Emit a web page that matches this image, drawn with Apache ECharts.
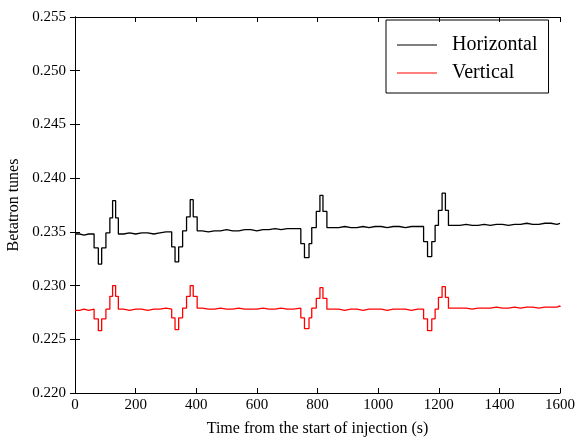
<!DOCTYPE html>
<html>
<head>
<meta charset="utf-8">
<script src="https://cdn.jsdelivr.net/npm/echarts@6/dist/echarts.min.js"></script>
<style>html,body{margin:0;padding:0;background:#fff}#c{width:578px;height:439px}</style>
</head>
<body>
<div id="c"></div>
<script>
// Time (s)
const times = [0,15,30,45,
  63,77,88,102,115,124,134,143,
  160,180,200,220,240,260,280,300,
  319,330,342,355,368,380,390,403,
  420,440,460,480,500,520,540,560,580,600,620,640,660,680,700,720,
  745,757,772,781,796,808,818,831,
  850,870,890,910,930,950,970,990,1010,1030,1050,1070,1090,1110,1130,
  1150,1163,1177,1188,1199,1211,1222,1232,
  1250,1270,1290,1310,1330,1350,1370,1390,1410,1430,1450,1470,1490,1510,1530,1550,1570,1590,1600];

const horizontal = [0.2348,0.2347,0.2348,0.2348,
  0.2335,0.2320,0.2335,0.2349,0.2363,0.2379,0.2363,0.2348,
  0.2349,0.2348,0.2349,0.2349,0.2348,0.2349,0.2350,0.2350,
  0.2336,0.2322,0.2336,0.2351,0.2364,0.2380,0.2364,0.2351,
  0.2350,0.2351,0.2351,0.2352,0.2351,0.2351,0.2352,0.2352,0.2351,0.2352,0.2352,0.2353,0.2352,0.2353,0.2353,0.2353,
  0.2339,0.2326,0.2339,0.2354,0.2369,0.2384,0.2369,0.2354,
  0.2354,0.2355,0.2354,0.2354,0.2355,0.2354,0.2355,0.2355,0.2354,0.2355,0.2355,0.2354,0.2355,0.2355,0.2355,
  0.2341,0.2327,0.2341,0.2356,0.2370,0.2386,0.2370,0.2356,
  0.2356,0.2357,0.2356,0.2356,0.2357,0.2356,0.2357,0.2357,0.2356,0.2357,0.2357,0.2358,0.2357,0.2357,0.2358,0.2358,0.2357,0.2358,0.2358];

const vertical = [0.2277,0.2278,0.2277,0.2278,
  0.2269,0.2258,0.2269,0.2278,0.2290,0.2300,0.2290,0.2278,
  0.2277,0.2278,0.2278,0.2277,0.2278,0.2278,0.2279,0.2278,
  0.2270,0.2259,0.2270,0.2279,0.2290,0.2300,0.2290,0.2279,
  0.2278,0.2278,0.2279,0.2278,0.2278,0.2279,0.2278,0.2278,0.2278,0.2279,0.2278,0.2278,0.2279,0.2278,0.2278,0.2279,
  0.2270,0.2260,0.2270,0.2279,0.2288,0.2298,0.2288,0.2278,
  0.2278,0.2277,0.2278,0.2278,0.2277,0.2278,0.2278,0.2278,0.2277,0.2278,0.2278,0.2278,0.2277,0.2278,0.2278,
  0.2269,0.2258,0.2269,0.2278,0.2289,0.2299,0.2289,0.2279,
  0.2279,0.2279,0.2278,0.2279,0.2279,0.2279,0.2280,0.2279,0.2279,0.2280,0.2279,0.2280,0.2280,0.2279,0.2280,0.2280,0.2280,0.2281,0.2280];

const seriesNames = ['Horizontal', 'Vertical'];
const xMin = 0, xMax = 1600, xStep = 200;
const yMin = 0.220, yMax = 0.255, yStep = 0.005;

const font = 'Liberation Serif';
const pairs = (vals) => times.map((t, i) => [t, vals[i]]);

const axisCommon = {
  axisLine: {show: true, lineStyle: {color: '#000', width: 1}},
  axisTick: {show: true, inside: true, length: 5, lineStyle: {color: '#000'}},
  splitLine: {show: false}
};

const chart = echarts.init(document.getElementById('c'), null, {renderer: 'canvas'});
chart.setOption({
  animation: false,
  backgroundColor: '#fff',
  grid: {left: 75, right: 18, top: 17, bottom: 46, containLabel: false, outerBoundsMode: 'none'},
  legend: {
    data: seriesNames.map(n => ({name: n, icon: 'rect'})),
    orient: 'vertical',
    left: 386, top: 20,
    padding: [15, 11, 10, 11],
    itemGap: 8,
    itemWidth: 40,
    itemHeight: 1.2,
    borderColor: '#000', borderWidth: 1,
    textStyle: {fontFamily: font, fontSize: 20, color: '#000', padding: [0, 0, 0, 10], lineHeight: 20}
  },
  xAxis: [
    Object.assign({type: 'value', min: xMin, max: xMax, interval: xStep, position: 'bottom',
      name: 'Time from the start of injection (s)', nameLocation: 'middle', nameGap: 28,
      nameTextStyle: {fontFamily: font, fontSize: 16, color: '#000'},
      axisLabel: {fontFamily: font, fontSize: 15, color: '#000', margin: 5,
        formatter: (v) => String(v)}}, axisCommon),
    Object.assign({type: 'value', min: xMin, max: xMax, interval: xStep, position: 'top',
      axisLabel: {show: false}}, axisCommon)
  ],
  yAxis: [
    Object.assign({type: 'value', min: yMin, max: yMax, interval: yStep, position: 'left',
      name: 'Betatron tunes', nameLocation: 'middle', nameGap: 48,
      nameTextStyle: {fontFamily: font, fontSize: 16, color: '#000'},
      axisLabel: {fontFamily: font, fontSize: 15, color: '#000', margin: 9,
        formatter: (v) => v.toFixed(3)}}, axisCommon),
    Object.assign({type: 'value', min: yMin, max: yMax, interval: yStep, position: 'right',
      axisLabel: {show: false}}, axisCommon)
  ],
  series: [
    {name: seriesNames[0], type: 'line', step: 'end', symbol: 'none', showSymbol: false,
      data: pairs(horizontal), color: '#000', lineStyle: {color: '#000', width: 1.3}},
    {name: seriesNames[1], type: 'line', step: 'end', symbol: 'none', showSymbol: false,
      data: pairs(vertical), color: '#ff0000', lineStyle: {color: '#ff0000', width: 1.3}}
  ]
});
</script>
</body>
</html>
